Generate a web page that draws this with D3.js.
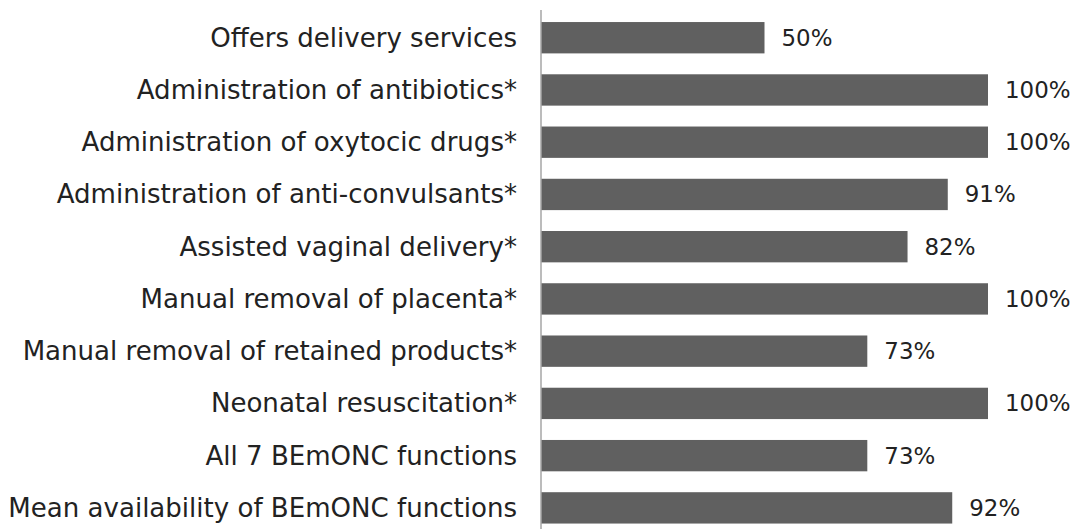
<!DOCTYPE html>
<html>
<head>
<meta charset="utf-8">
<script src="https://cdn.jsdelivr.net/npm/d3@7"></script>
<style>
  html, body { margin: 0; padding: 0; background: #fff; }
  svg { display: block; }
  text { font-family: "Century Gothic", "DejaVu Sans", sans-serif; fill: #222; }
</style>
</head>
<body>
<svg id="chart" width="1074" height="529"></svg>
<script>
const categories = [
  "Offers delivery services",
  "Administration of antibiotics*",
  "Administration of oxytocic drugs*",
  "Administration of anti-convulsants*",
  "Assisted vaginal delivery*",
  "Manual removal of placenta*",
  "Manual removal of retained products*",
  "Neonatal resuscitation*",
  "All 7 BEmONC functions",
  "Mean availability of BEmONC functions"
];
const values = [50, 100, 100, 91, 82, 100, 73, 100, 73, 92];
const valueLabels = ["50%", "100%", "100%", "91%", "82%", "100%", "73%", "100%", "73%", "92%"];

const svg = d3.select("#chart");
const x0 = 541;
const x = d3.scaleLinear().domain([0, 100]).range([x0, 988]);
const y = d3.scaleBand().domain(categories).range([11.6, 534]).paddingInner(0.4).paddingOuter(0.2);

const data = categories.map((c, i) => ({ c, v: values[i], l: valueLabels[i] }));

svg.selectAll("rect.bar").data(data).join("rect")
  .attr("class", "bar")
  .attr("x", x(0))
  .attr("y", d => y(d.c))
  .attr("width", d => x(d.v) - x(0))
  .attr("height", y.bandwidth())
  .attr("fill", "#606060");

svg.append("line")
  .attr("x1", x0).attr("x2", x0)
  .attr("y1", 10).attr("y2", 529)
  .attr("stroke", "#a6a6a6").attr("stroke-width", 1.5);

const cats = svg.selectAll("text.cat").data(data).join("text")
  .attr("class", "cat")
  .attr("x", 517)
  .attr("y", d => y(d.c) + y.bandwidth() / 2)
  .attr("text-anchor", "end")
  .attr("dominant-baseline", "central")
  .style("font-size", "20px")
  .text(d => d.c);

const vals = svg.selectAll("text.val").data(data).join("text")
  .attr("class", "val")
  .attr("x", d => x(d.v) + 17)
  .attr("y", d => y(d.c) + y.bandwidth() / 2)
  .attr("text-anchor", "start")
  .attr("dominant-baseline", "central")
  .style("font-size", "20px")
  .text(d => d.l);

// fit font size so the widest label matches the reference width
const longest = cats.filter((d, i) => i === categories.length - 1).node();
const w = longest.getComputedTextLength();
const fs = 20 * 509 / w;
cats.style("font-size", fs + "px");
vals.style("font-size", (fs * 0.88) + "px");
</script>
</body>
</html>
